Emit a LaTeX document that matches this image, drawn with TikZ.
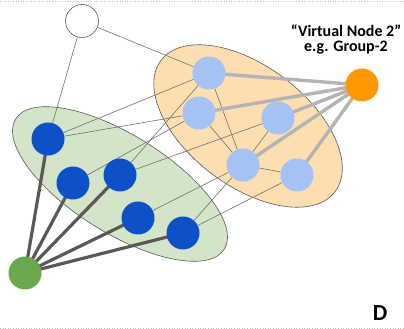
\documentclass[tikz,border=0pt]{standalone}
\usepackage{fontspec}
\setmainfont{Carlito}
\begin{document}
\begin{tikzpicture}[x=1pt,y=1pt,
  vnode/.style={circle,inner sep=0pt,minimum size=33pt},
  darknode/.style={vnode,fill=nodeblue},
  lightnode/.style={vnode,fill=lightblue},
  thinlink/.style={draw=linkgray,line width=0.6pt},
  memberlink/.style={draw=darklink,line width=3.2pt},
  grouplink/.style={draw=lightlink,line width=3.4pt},
  cluster/.style={draw=outlinegray,line width=0.6pt}]
\definecolor{nodeblue}{RGB}{14,80,200}
\definecolor{lightblue}{RGB}{164,194,244}
\definecolor{nodeorange}{RGB}{255,153,0}
\definecolor{nodegreen}{RGB}{106,168,79}
\definecolor{greenfill}{RGB}{210,229,200}
\definecolor{orangefill}{RGB}{253,222,176}
\definecolor{linkgray}{RGB}{112,112,112}
\definecolor{darklink}{RGB}{89,89,89}
\definecolor{lightlink}{RGB}{180,180,180}
\definecolor{outlinegray}{RGB}{90,90,90}
\definecolor{dotgray}{RGB}{190,190,190}

\useasboundingbox (0,0) rectangle (404,329);

% frame rules
\coordinate (tl) at (0,328);
\coordinate (tr) at (404,328);
\coordinate (bl) at (0,1);
\coordinate (br) at (404,1);
\draw[dotgray,dotted,line width=0.6pt] (tl) -- (tr);
\draw[dotgray,dotted,line width=0.6pt] (bl) -- (br);

% the two groups
\coordinate (gc) at (120,145);
\coordinate (oc) at (248,203);
\filldraw[cluster,fill=greenfill,rotate around={-32:(gc)}] (gc) ellipse [x radius=123pt,y radius=49pt];
\filldraw[cluster,fill=orangefill,rotate around={-37:(oc)}] (oc) ellipse [x radius=109pt,y radius=60pt];

% node positions
\node[vnode] (W) at (82,308) {};
\node[vnode] (O) at (362,244) {};
\node[vnode] (L1) at (209,256) {};
\node[vnode] (L2) at (199,216) {};
\node[vnode] (L3) at (278,211) {};
\node[vnode] (L4) at (243,164) {};
\node[vnode] (L5) at (297,154) {};
\node[vnode] (D1) at (48,190) {};
\node[vnode] (D2) at (73,146) {};
\node[vnode] (D3) at (120,154) {};
\node[vnode] (D4) at (138,111) {};
\node[vnode] (D5) at (183,96) {};
\node[vnode] (G) at (25,56) {};

% ordinary links
\path[thinlink] (W) -- (L1);
\path[thinlink] (W) -- (D1);
\path[thinlink] (D1) -- (L1);
\path[thinlink] (D1) -- (L2);
\path[thinlink] (D2) -- (L2);
\path[thinlink] (D3) -- (L1);
\path[thinlink] (D3) -- (L3);
\path[thinlink] (D4) -- (L4);
\path[thinlink] (D5) -- (L4);
\path[thinlink] (D5) -- (L5);
\path[thinlink] (L1) -- (L4);
\path[thinlink] (L2) -- (L4);
\path[thinlink] (L3) -- (L4);
\path[thinlink] (L4) -- (L5);

% links to the virtual nodes
\foreach \n in {L1,L2,L3,L4,L5} \path[grouplink] (O.center) -- (\n.center);
\foreach \n in {D1,D2,D3,D4,D5} \path[memberlink] (G.center) -- (\n.center);

% node discs
\node[vnode,draw=outlinegray,fill=white,line width=0.6pt] at (W) {};
\node[vnode,fill=nodeorange] at (O) {};
\node[vnode,fill=nodegreen] at (G) {};
\foreach \n in {L1,L2,L3,L4,L5} \node[lightnode] at (\n) {};
\foreach \n in {D1,D2,D3,D4,D5} \node[darknode] at (\n) {};

% labels
\node[font=\bfseries\fontsize{16}{15.5}\selectfont,align=center] (vlabel) at (346,289.5)
  {“Virtual Node 2”\\e.g. Group-2};
\node[font=\bfseries\fontsize{23}{24}\selectfont] (panel) at (380,16) {D};
\end{tikzpicture}
\end{document}
